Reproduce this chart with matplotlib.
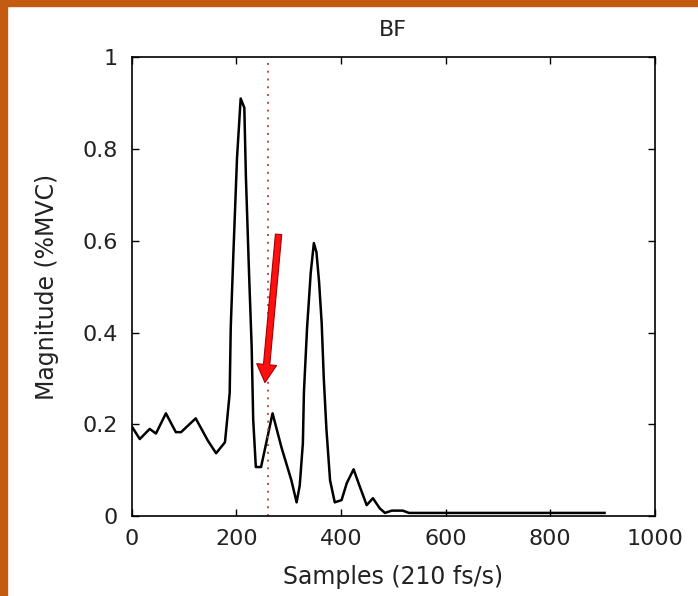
import matplotlib.pyplot as plt
import matplotlib.patches as mpatches

# curve
samples = [0, 15, 34, 46, 65, 84, 94, 122, 145, 161, 178, 187, 189, 194, 201, 208,
           215, 218, 224, 229, 232, 237, 247, 254, 269, 286, 305, 315, 321, 327,
           329, 335, 342, 348, 353, 358, 363, 367, 372, 379, 388, 401, 411, 424,
           436, 449, 461, 474, 484, 497, 518, 530, 600, 750, 904]
magnitude = [0.195, 0.168, 0.19, 0.18, 0.224, 0.183, 0.183, 0.213, 0.165, 0.137,
             0.161, 0.268, 0.41, 0.57, 0.78, 0.91, 0.89, 0.74, 0.53, 0.37, 0.21,
             0.107, 0.107, 0.144, 0.224, 0.15, 0.078, 0.03, 0.067, 0.159, 0.27,
             0.41, 0.53, 0.595, 0.575, 0.51, 0.42, 0.30, 0.19, 0.078, 0.03, 0.035,
             0.072, 0.102, 0.064, 0.024, 0.039, 0.017, 0.007, 0.012, 0.012, 0.007,
             0.007, 0.007, 0.007]
marker_x = 260
arrow_start = (281, 0.62)
arrow_end = (254, 0.285)

plt.rcParams['font.family'] = ['DejaVu Sans']

fig = plt.figure(figsize=(6.98, 5.96), dpi=100)
ax = fig.add_axes([0.189, 0.134, 0.749, 0.770])

ax.plot(samples, magnitude, color='black', linewidth=1.8)
ax.axvline(marker_x, color='#c84848', linestyle=(0, (1, 3)), linewidth=1.4)

arrow = mpatches.FancyArrowPatch(arrow_start, arrow_end,
                                 arrowstyle='simple,head_width=1.1,head_length=1.0,tail_width=0.35',
                                 mutation_scale=13, facecolor='#ff1010',
                                 edgecolor='#a00000', linewidth=0.8, zorder=5)
ax.add_patch(arrow)

ax.set_xlim(0, 1000)
ax.set_ylim(0, 1)
ax.set_xticks([0, 200, 400, 600, 800, 1000])
ax.set_yticks([0, 0.2, 0.4, 0.6, 0.8, 1])
ax.set_yticklabels(['0', '0.2', '0.4', '0.6', '0.8', '1'])
ax.tick_params(direction='in', length=5, width=1, top=True, right=True,
               labelsize=16, colors='black', labelcolor='#222222')
ax.tick_params(axis='x', pad=9)
ax.tick_params(axis='y', pad=10)
for s in ax.spines.values():
    s.set_linewidth(1.2)

ax.set_title('BF', fontsize=16, color='#222222', pad=15)
ax.set_xlabel('Samples (210 fs/s)', fontsize=17, color='#222222', labelpad=12)
ax.set_ylabel('Magnitude (%MVC)', fontsize=17, color='#222222', labelpad=17)

# orange frame on top and left
fig.patches.append(mpatches.Rectangle((0, 0), 0.010, 1, transform=fig.transFigure,
                                      color='#c55a11', zorder=10))
fig.patches.append(mpatches.Rectangle((0, 0.990), 1, 0.010, transform=fig.transFigure,
                                      color='#c55a11', zorder=10))

fig.savefig('out.png', dpi=100)
